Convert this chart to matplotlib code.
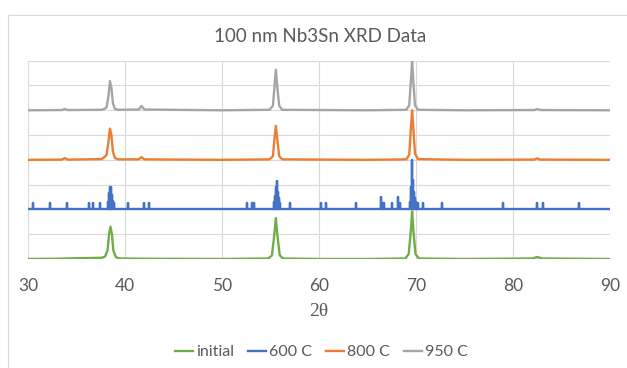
import matplotlib
matplotlib.use('Agg')
import matplotlib.pyplot as plt
from matplotlib.lines import Line2D
import numpy as np

# scans, intensity normalised, offset applied when drawn
two_theta_init = [30, 33, 35, 36.5, 37.6, 37.95, 38.2, 38.35, 38.5, 38.65, 38.8, 39.05, 39.4, 42, 50,
                  54.8, 55.15, 55.4, 55.55, 55.7, 55.95, 56.3, 60, 65,
                  68.9, 69.25, 69.48, 69.6, 69.72, 69.95, 70.3, 75, 82.0, 82.5, 83.0, 90]
int_init = [0.0, 0.01, 0.03, 0.04, 0.05, 0.1, 0.35, 1.0, 1.3, 1.0, 0.35, 0.08, 0.02, 0.01, 0.0,
            0.02, 0.15, 1.0, 1.65, 1.0, 0.15, 0.02, 0.0, 0.0,
            0.02, 0.2, 1.2, 1.92, 1.2, 0.2, 0.02, 0.0, 0.02, 0.08, 0.02, 0.0]

two_theta_800 = [30, 33.5, 33.8, 34.1, 37.6, 37.9, 38.1, 38.3, 38.45, 38.6, 38.75, 38.95, 39.3,
                 41.4, 41.7, 42.0, 50, 54.9, 55.25, 55.42, 55.55, 55.68, 55.9, 56.2, 65,
                 69.0, 69.3, 69.48, 69.6, 69.72, 69.9, 70.2, 75, 82.2, 82.5, 82.8, 90]
int_800 = [0.0, 0.01, 0.07, 0.01, 0.03, 0.12, 0.2, 0.75, 1.26, 1.0, 0.35, 0.08, 0.02,
           0.02, 0.11, 0.02, 0.0, 0.02, 0.15, 0.9, 1.37, 0.9, 0.15, 0.02, 0.0,
           0.02, 0.2, 1.3, 2.0, 1.3, 0.25, 0.03, 0.0, 0.01, 0.06, 0.01, 0.0]

two_theta_950 = two_theta_800
int_950 = [0.0, 0.01, 0.05, 0.01, 0.02, 0.06, 0.12, 0.6, 1.18, 0.9, 0.3, 0.06, 0.02,
           0.03, 0.17, 0.03, 0.0, 0.02, 0.18, 1.0, 1.64, 1.0, 0.18, 0.02, 0.0,
           0.02, 0.2, 1.2, 2.0, 1.2, 0.2, 0.02, 0.0, 0.01, 0.05, 0.01, 0.0]

# 600 C is a stick pattern
stick_pos = [30.55, 32.27, 34.05, 36.3, 36.7, 37.4,
             38.2, 38.3, 38.4, 38.5, 38.6, 38.7, 38.8, 38.9,
             40.3, 42.0, 42.5, 52.55, 53.05, 53.15, 53.25,
             55.4, 55.5, 55.6, 55.7, 55.8, 55.9, 56.0, 57.0, 60.2, 60.7, 63.8,
             66.35, 66.5, 66.6, 66.7, 67.5, 68.1, 68.35,
             69.4, 69.5, 69.6, 69.7, 69.8, 69.9, 70.0, 70.1, 70.25, 70.7, 72.7,
             79.0, 82.5, 83.1, 86.8]
stick_int = [0.24, 0.24, 0.24, 0.24, 0.24, 0.24,
             0.3, 0.45, 0.65, 0.92, 0.92, 0.6, 0.35, 0.25,
             0.24, 0.24, 0.24, 0.24, 0.24, 0.24, 0.24,
             0.3, 0.55, 0.9, 1.14, 0.7, 0.45, 0.24, 0.24, 0.24, 0.24, 0.24,
             0.5, 0.24, 0.24, 0.24, 0.24, 0.5, 0.24,
             0.3, 0.9, 2.0, 1.2, 0.7, 0.45, 0.3, 0.24, 0.24, 0.24, 0.24,
             0.24, 0.24, 0.24, 0.24]
stick_range = [30, 90]

offsets = {'initial': 0, '600 C': 2, '800 C': 4, '950 C': 6}
colors = {'initial': '#70AD47', '600 C': '#4472C4', '800 C': '#ED7D31', '950 C': '#A5A5A5'}
x_ticks = [30, 40, 50, 60, 70, 80, 90]

text_color = '#595959'
font = 'Lato'

fig = plt.figure(figsize=(6.27, 3.68), dpi=100)
ax = fig.add_axes([28 / 627, 1 - 259 / 368, (610 - 28) / 627, (259 - 60.7) / 368])

# stick lines: x, x, x with 0, h, 0, plus baseline over the whole range
sx = np.concatenate([[stick_range[0]], np.repeat(stick_pos, 3), [stick_range[1]]])
sy = np.concatenate([[0], np.column_stack([np.zeros(len(stick_int)), stick_int,
                                           np.zeros(len(stick_int))]).ravel(), [0]])

lw = 1.7
ax.plot(two_theta_init, np.array(int_init) + offsets['initial'], color=colors['initial'], lw=lw, label='initial')
ax.plot(sx, sy + offsets['600 C'], color=colors['600 C'], lw=lw, label='600 C')
ax.plot(two_theta_800, np.array(int_800) + offsets['800 C'], color=colors['800 C'], lw=lw, label='800 C')
ax.plot(two_theta_950, np.array(int_950) + offsets['950 C'], color=colors['950 C'], lw=lw, label='950 C')

ax.set_xlim(30, 90)
ax.set_ylim(0, 8)
ax.set_xticks(x_ticks)
ax.set_yticks(np.arange(0, 9, 1))
ax.set_yticklabels([])
ax.grid(True, color='#D9D9D9', lw=0.8)
ax.set_axisbelow(True)
for s in ax.spines.values():
    s.set_visible(False)
ax.tick_params(length=0, labelsize=12.5, labelcolor=text_color, pad=14)
for lbl in ax.get_xticklabels():
    lbl.set_family(font)

ax.set_xlabel('2θ', family='Liberation Serif', fontsize=14, color=text_color, labelpad=6)

fig.text(0.51, 1 - 37 / 368, '100 nm Nb3Sn XRD Data', ha='center', va='center',
         family=font, fontsize=13.5, color=text_color)

fig.legend(loc='center', bbox_to_anchor=(0.513, 1 - 352 / 368), ncol=4, frameon=False,
           handlelength=1.1, handletextpad=0.2, columnspacing=0.9,
           prop={'family': font, 'size': 11.5}, labelcolor=text_color)

# chart area border
fig.add_artist(Line2D([8 / 627, 8 / 627], [0, 1 - 15 / 368], transform=fig.transFigure, color='#D9D9D9', lw=0.8))
fig.add_artist(Line2D([8 / 627, 1], [1 - 15 / 368, 1 - 15 / 368], transform=fig.transFigure, color='#D9D9D9', lw=0.8))

fig.savefig('out.png', dpi=100)
